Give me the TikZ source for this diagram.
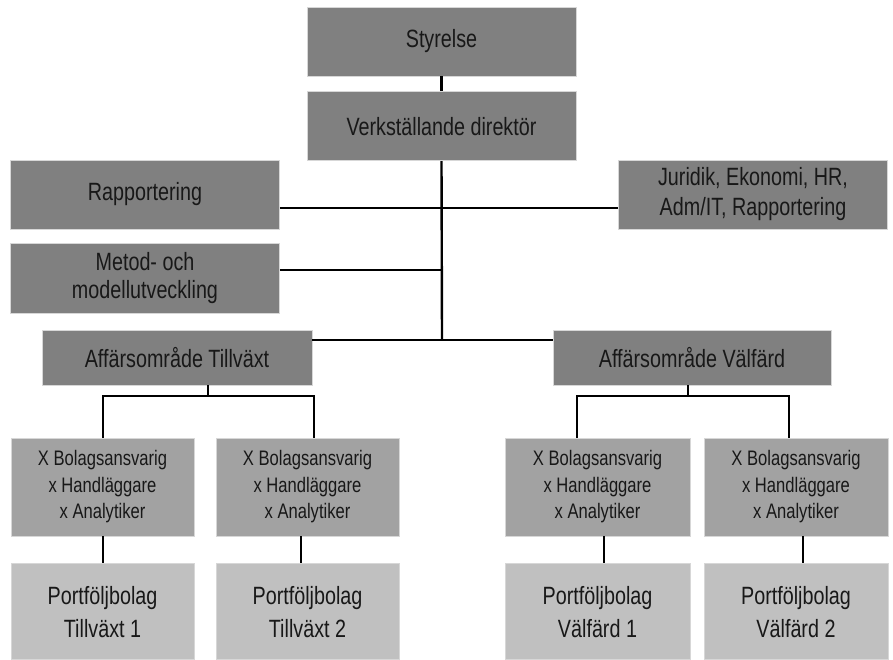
\documentclass[tikz,border=0pt]{standalone}
\usepackage{fontspec}
\setmainfont{Liberation Sans}[FakeStretch=0.79]
\usepackage{tikz}
\usepackage{xcolor}
\usetikzlibrary{positioning}
\definecolor{orggray}{RGB}{128,128,128}
\definecolor{teamgray}{RGB}{162,162,162}
\definecolor{bolaggray}{RGB}{192,192,192}
\definecolor{orgedge}{RGB}{215,215,215}
\definecolor{orgtext}{RGB}{24,24,24}

\begin{document}
\begin{tikzpicture}[x=1pt, y=-1pt,
  orgbox/.style={draw=orgedge, line width=0.8pt, fill=orggray, text=orgtext, align=center, inner sep=0pt,
    font=\fontsize{25}{30}\selectfont},
  unitbox/.style={orgbox, minimum width=269pt, minimum height=69pt},
  areabox/.style={orgbox, minimum height=55pt},
  teambox/.style={orgbox, fill=teamgray, minimum width=184pt, minimum height=98pt,
    font=\fontsize{21}{26.5}\selectfont},
  bolagbox/.style={orgbox, fill=bolaggray, minimum width=184pt, minimum height=96pt,
    font=\fontsize{25}{33}\selectfont},
  orgline/.style={draw=black, line width=2.4pt}]
\useasboundingbox (0,0) rectangle (893,659);
\node[unitbox] (sty) at (441.5,41.5) {Styrelse};
\node[unitbox,below=15pt of sty] (vd) {Verkställande direktör};
\node[unitbox] (rap) at (145,194.5) {Rapportering};
\node[unitbox] (jur) at (753,194.5) {Juridik, Ekonomi, HR,\\Adm/IT, Rapportering};
\node[unitbox,minimum height=70pt,font=\fontsize{25}{28}\selectfont] (met) at (145,278) {Metod- och\\modellutveckling};
\node[areabox,minimum width=270pt] (at) at (177,357.5) {Affärsområde Tillväxt};
\node[areabox,minimum width=278pt] (av) at (692,357.5) {Affärsområde Välfärd};
\node[teambox,minimum width=183pt] (t1) at (102.5,487) {X Bolagsansvarig\\x Handläggare\\x Analytiker};
\node[teambox,minimum width=183pt] (t2) at (307.5,487) {X Bolagsansvarig\\x Handläggare\\x Analytiker};
\node[teambox,minimum width=185pt] (t3) at (597.5,487) {X Bolagsansvarig\\x Handläggare\\x Analytiker};
\node[teambox] (t4) at (796,487) {X Bolagsansvarig\\x Handläggare\\x Analytiker};
\node[bolagbox,minimum width=183pt,below=27pt of t1] (p1) {Portföljbolag\\Tillväxt 1};
\node[bolagbox,minimum width=183pt,below=27pt of t2] (p2) {Portföljbolag\\Tillväxt 2};
\node[bolagbox,minimum width=185pt,below=27pt of t3] (p3) {Portföljbolag\\Välfärd 1};
\node[bolagbox,below=27pt of t4] (p4) {Portföljbolag\\Välfärd 2};
\coordinate (j1) at (442,208);
\coordinate (j2) at (442,270);
\coordinate (j3) at (442,340);
\coordinate (ja) at (208,396);
\coordinate (jb) at (688,396);
\coordinate (c1) at (103,396);
\coordinate (c2) at (314,396);
\coordinate (c3) at (577,396);
\coordinate (c4) at (789,396);
\coordinate (d2) at (301,0);
\coordinate (d3) at (604,0);
\coordinate (d4) at (803,0);
\draw[orgline] (sty) -- (vd);
\draw[orgline] (vd.south) -- (j3);
\draw[orgline] (rap.east |- j1) -- (jur.west |- j1);
\draw[orgline] (met.east |- j2) -- (j2);
\draw[orgline] (at.east |- j3) -- (av.west |- j3);
\draw[orgline] (at.south -| ja) -- (ja);
\draw[orgline] (av.south -| jb) -- (jb);
\draw[orgline] (t1.north -| c1) |- (c2) -- (t2.north -| c2);
\draw[orgline] (t3.north -| c3) |- (c4) -- (t4.north -| c4);
\draw[orgline] (t1.south -| c1) -- (p1.north -| c1);
\draw[orgline] (t2.south -| d2) -- (p2.north -| d2);
\draw[orgline] (t3.south -| d3) -- (p3.north -| d3);
\draw[orgline] (t4.south -| d4) -- (p4.north -| d4);
\end{tikzpicture}
\end{document}
